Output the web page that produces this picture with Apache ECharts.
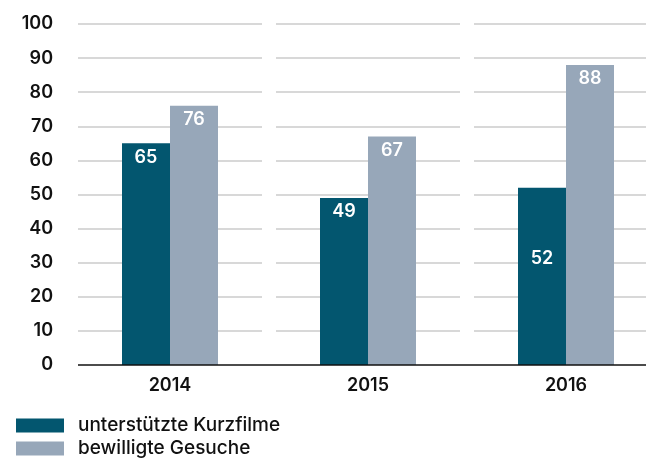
<!DOCTYPE html>
<html>
<head>
<meta charset="utf-8">
<script src="https://cdn.jsdelivr.net/npm/echarts@6/dist/echarts.min.js"></script>
<style>
  html, body { margin: 0; padding: 0; background: #fff; }
  #chart { width: 646px; height: 462px; }
</style>
</head>
<body>
<div id="chart"></div>
<script>
// data
const years = ['2014', '2015', '2016']
const kurzfilme = [65, 49, 52]
const gesuche = [76, 67, 88]
const seriesNames = ['unterstützte Kurzfilme', 'bewilligte Gesuche']

const darkBlue = '#03566f'
const greyBlue = '#97a7b9'
const fontFamily = 'Inter, "Noto Sans", sans-serif'

const chart = echarts.init(document.getElementById('chart'))

const labelStyle = {
    show: true,
    position: 'insideTop',
    distance: 5,
    color: '#fff',
    fontSize: 18,
    fontWeight: 600,
    fontFamily: fontFamily
}

// the 2016 label of the dark bar sits further down in the bar
const kurzfilmeData = kurzfilme.map((v, i) => i === 2
    ? { value: v, label: { distance: 62 } }
    : v)

// grid lines are broken between the years: one small grid per year just for them
const bandLefts = [78, 276, 474]
const grids = [{
    left: 71, top: 24, right: -19, bottom: 97,
    containLabel: false, outerBoundsMode: 'none'
}]
const xAxes = [{
    type: 'category',
    data: years,
    gridIndex: 0,
    axisTick: { show: false },
    axisLine: { show: false },
    axisLabel: {
        color: '#111',
        fontSize: 18,
        fontWeight: 600,
        fontFamily: fontFamily,
        margin: 12
    },
    splitLine: { show: false }
}]
const yAxes = [{
    type: 'value',
    gridIndex: 0,
    min: 0,
    max: 100,
    interval: 10,
    axisLine: { show: false },
    axisTick: { show: false },
    axisLabel: {
        color: '#111',
        fontSize: 18,
        fontWeight: 600,
        fontFamily: fontFamily,
        margin: 18
    },
    splitLine: { show: false }
}]
bandLefts.forEach((left, i) => {
    grids.push({
        left: left, top: 24, width: 184, bottom: 97,
        containLabel: false, outerBoundsMode: 'none'
    })
    xAxes.push({ type: 'value', gridIndex: i + 1, min: 0, max: 1, show: false })
    yAxes.push({
        type: 'value',
        gridIndex: i + 1,
        min: 0,
        max: 100,
        interval: 10,
        z: 0,
        axisLine: { show: false },
        axisTick: { show: false },
        axisLabel: { show: false },
        splitLine: {
            show: true,
            showMinLine: false,
            lineStyle: { color: '#cbcbcb', width: 1.5 }
        }
    })
})

// black base line, starting where the grid lines start
grids.push({
    left: 78, top: 24, right: -19, bottom: 97,
    containLabel: false, outerBoundsMode: 'none'
})
xAxes.push({ type: 'value', gridIndex: 4, min: 0, max: 1, show: false })
yAxes.push({
    type: 'value',
    gridIndex: 4,
    min: 0,
    max: 100,
    interval: 100,
    z: 5,
    axisLine: { show: false },
    axisTick: { show: false },
    axisLabel: { show: false },
    splitLine: {
        show: true,
        showMaxLine: false,
        lineStyle: { color: '#111', width: 1.5 }
    }
})

chart.setOption({
    animation: false,
    grid: grids,
    legend: {
        orient: 'vertical',
        left: 16,
        top: 416,
        padding: 0,
        itemWidth: 48,
        itemHeight: 14,
        itemGap: 4,
        icon: 'rect',
        data: seriesNames,
        textStyle: {
            color: '#111',
            fontSize: 19,
            fontWeight: 500,
            fontFamily: fontFamily,
            padding: [0, 0, 0, 9]
        }
    },
    xAxis: xAxes,
    yAxis: yAxes,
    series: [{
        name: seriesNames[0],
        type: 'bar',
        xAxisIndex: 0,
        yAxisIndex: 0,
        data: kurzfilmeData,
        barWidth: 48,
        barGap: '0%',
        itemStyle: { color: darkBlue },
        label: labelStyle
    }, {
        name: seriesNames[1],
        type: 'bar',
        xAxisIndex: 0,
        yAxisIndex: 0,
        data: gesuche,
        barWidth: 48,
        barGap: '0%',
        itemStyle: { color: greyBlue },
        label: labelStyle
    }]
})
</script>
</body>
</html>
